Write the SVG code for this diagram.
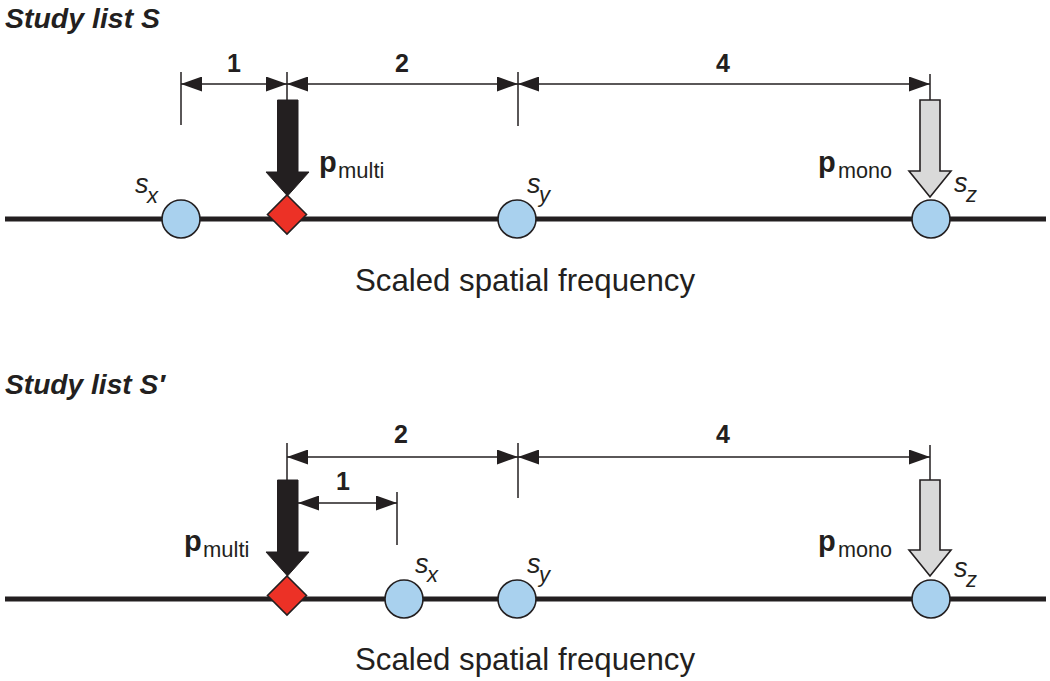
<svg xmlns="http://www.w3.org/2000/svg" width="1050" height="681" viewBox="0 0 1050 681">
<defs>
<marker id="ah" viewBox="0 0 21 15" refX="21" refY="7.5" markerWidth="21" markerHeight="15" markerUnits="userSpaceOnUse" orient="auto-start-reverse">
<path d="M0,0 L21,7.5 L0,15 z" fill="#231f20"/>
</marker>
</defs>
<style>
.axis{stroke:#231f20;stroke-width:5;fill:none}
.dim{stroke:#231f20;stroke-width:1.5;fill:none}
.dima{stroke:#231f20;stroke-width:1.5;fill:none;marker-start:url(#ah);marker-end:url(#ah)}
.circ{fill:#a9d1ee;stroke:#231f20;stroke-width:1.6}
.dia{fill:#ec3126;stroke:#231f20;stroke-width:1.6}
.blk{fill:#231f20;stroke:#231f20;stroke-width:1}
.gry{fill:#d9d9d9;stroke:#231f20;stroke-width:1.6}
.title{font-family:"Liberation Sans",Arial,sans-serif;font-weight:bold;font-style:italic;font-size:28px;fill:#231f20}
.num{font-family:"Liberation Sans",Arial,sans-serif;font-weight:bold;font-size:25px;fill:#231f20;text-anchor:middle}
.pb{font-family:"Liberation Sans",Arial,sans-serif;font-weight:bold;font-size:29px;fill:#231f20}
.sub{font-family:"Liberation Sans",Arial,sans-serif;font-size:22px;fill:#231f20}
.s{font-family:"Liberation Sans",Arial,sans-serif;font-style:italic;font-size:27px;fill:#231f20}
.si{font-family:"Liberation Sans",Arial,sans-serif;font-style:italic;font-size:22px;fill:#231f20}
.axl{font-family:"Liberation Sans",Arial,sans-serif;font-size:32px;fill:#231f20}
</style>
<rect width="1050" height="681" fill="#ffffff"/>

<!-- Panel S -->
<text id="title-S" class="title" x="5" y="28" textLength="155" lengthAdjust="spacingAndGlyphs">Study list S</text>

<g id="connectors-S">
<line class="axis" x1="5" y1="219" x2="1046" y2="219"/>
<line class="dim" x1="181" y1="72" x2="181" y2="125"/>
<line class="dim" x1="287" y1="72" x2="287" y2="100"/>
<line class="dim" x1="518" y1="72" x2="518" y2="126"/>
<line class="dim" x1="930" y1="74" x2="930" y2="100"/>
<line class="dima" x1="181" y1="84" x2="287" y2="84"/>
<line class="dima" x1="287" y1="84" x2="518" y2="84"/>
<line class="dima" x1="518" y1="84" x2="930" y2="84"/>
</g>
<text id="dim1-S" class="num" x="234" y="72">1</text>
<text id="dim2-S" class="num" x="402" y="72">2</text>
<text id="dim4-S" class="num" x="723" y="72">4</text>

<g id="sx-S">
<circle class="circ" cx="181" cy="219" r="19"/>
<text x="135" y="193"><tspan class="s">s</tspan><tspan class="si" x="147" y="203">x</tspan></text>
</g>
<g id="sy-S">
<circle class="circ" cx="517" cy="219" r="19"/>
<text x="527" y="193"><tspan class="s">s</tspan><tspan class="si" x="539" y="202">y</tspan></text>
</g>
<g id="sz-S">
<circle class="circ" cx="931" cy="219" r="19"/>
<text x="954" y="192"><tspan class="s">s</tspan><tspan class="si" x="966" y="202">z</tspan></text>
</g>
<g id="pmulti-S">
<path class="blk" d="M277.5,100 H298 V172 H309 L287.5,196 L266,172 H277.5 Z"/>
<polygon class="dia" points="287,195 306.5,214.5 287,234 267.5,214.5"/>
<text x="319" y="172"><tspan class="pb">p</tspan><tspan class="sub" x="338" y="178">multi</tspan></text>
</g>
<g id="pmono-S">
<path class="gry" d="M920,100 H940 V171 H951 L930,197 L909,171 H920 Z"/>
<text x="818" y="172"><tspan class="pb">p</tspan><tspan class="sub" x="838" y="178" textLength="54" lengthAdjust="spacingAndGlyphs">mono</tspan></text>
</g>
<text id="axis-label-S" class="axl" x="525" y="291" text-anchor="middle" textLength="340" lengthAdjust="spacingAndGlyphs">Scaled spatial frequency</text>

<!-- Panel S' -->
<text id="title-S2" class="title" x="5" y="394" textLength="160" lengthAdjust="spacingAndGlyphs">Study list S′</text>

<g id="connectors-S2">
<line class="axis" x1="5" y1="599" x2="1046" y2="599"/>
<line class="dim" x1="287" y1="443" x2="287" y2="480"/>
<line class="dim" x1="518" y1="443" x2="518" y2="498"/>
<line class="dim" x1="930" y1="445" x2="930" y2="480"/>
<line class="dim" x1="397" y1="492" x2="397" y2="545"/>
<line class="dima" x1="287" y1="457" x2="518" y2="457"/>
<line class="dima" x1="518" y1="457" x2="930" y2="457"/>
<line class="dima" x1="298" y1="503" x2="397" y2="503"/>
</g>
<text id="dim2-S2" class="num" x="401" y="443">2</text>
<text id="dim1-S2" class="num" x="343" y="490">1</text>
<text id="dim4-S2" class="num" x="723" y="443">4</text>

<g id="sx-S2">
<circle class="circ" cx="404" cy="599" r="19"/>
<text x="415" y="573"><tspan class="s">s</tspan><tspan class="si" x="427" y="582">x</tspan></text>
</g>
<g id="sy-S2">
<circle class="circ" cx="517" cy="599" r="19"/>
<text x="527" y="573"><tspan class="s">s</tspan><tspan class="si" x="539" y="582">y</tspan></text>
</g>
<g id="sz-S2">
<circle class="circ" cx="931" cy="599" r="19"/>
<text x="954" y="577"><tspan class="s">s</tspan><tspan class="si" x="966" y="587">z</tspan></text>
</g>
<g id="pmulti-S2">
<path class="blk" d="M277.5,480 H298 V552 H309 L287.5,576 L266,552 H277.5 Z"/>
<polygon class="dia" points="287,576 306.5,595.5 287,615 267.5,595.5"/>
<text x="184" y="551"><tspan class="pb">p</tspan><tspan class="sub" x="203" y="557">multi</tspan></text>
</g>
<g id="pmono-S2">
<path class="gry" d="M920,480 H940 V550 H951 L930,576 L909,550 H920 Z"/>
<text x="818" y="551"><tspan class="pb">p</tspan><tspan class="sub" x="838" y="557" textLength="54" lengthAdjust="spacingAndGlyphs">mono</tspan></text>
</g>
<text id="axis-label-S2" class="axl" x="525" y="670" text-anchor="middle" textLength="340" lengthAdjust="spacingAndGlyphs">Scaled spatial frequency</text>
</svg>
